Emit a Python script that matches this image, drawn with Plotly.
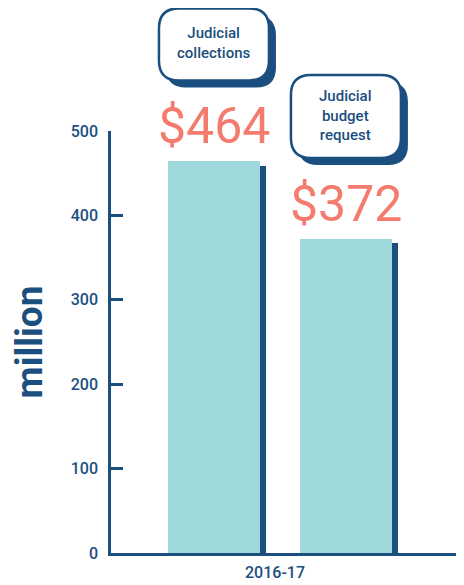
import plotly.graph_objects as go

# data
categories = ["Judicial collections", "Judicial budget request"]
callout_text = ["Judicial<br>collections", "Judicial<br>budget<br>request"]
amounts = [464, 372]
period_label = "2016-17"
y_ticks = [0, 100, 200, 300, 400, 500]

teal = "#9ED8DA"
navy = "#1B4F80"
salmon = "#F47C6E"
FONT = "Roboto, Liberation Sans, sans-serif"

xs = list(range(len(categories)))
bar_w = 0.70
shadow_dx = 0.046   # shadow strip on the right of each bar
shadow_drop = 5     # shadow top sits a little lower than the bar
y_max = 500

fig = go.Figure()
fig.add_trace(go.Bar(x=xs, y=[v - shadow_drop for v in amounts],
                     width=bar_w + shadow_dx, offset=-bar_w / 2,
                     marker=dict(color=navy, line=dict(width=0)),
                     hoverinfo="skip", showlegend=False))
fig.add_trace(go.Bar(x=xs, y=amounts, width=bar_w,
                     marker=dict(color=teal, line=dict(width=0)),
                     hovertext=categories, showlegend=False))


def rrect(x0, x1, y0, y1, r):
    return (f"M{x0+r},{y0} L{x1-r},{y0} Q{x1},{y0} {x1},{y0+r} "
            f"L{x1},{y1-r} Q{x1},{y1} {x1-r},{y1} L{x0+r},{y1} "
            f"Q{x0},{y1} {x0},{y1-r} L{x0},{y0+r} Q{x0},{y0} {x0+r},{y0} Z")


shapes = []
annotations = []
for i, (v, txt) in enumerate(zip(amounts, callout_text)):
    nlines = txt.count("<br>") + 1
    h = 50 + 11 * nlines
    bottom = 81
    w = 110
    sh = 7
    common = dict(xref="x", yref="paper", xsizemode="pixel", ysizemode="pixel",
                  xanchor=i, yanchor=v / y_max, layer="above")
    shapes.append(dict(type="path",
                       path=rrect(-w / 2 + sh, w / 2 + sh, bottom - sh, bottom + h - sh, 20),
                       fillcolor=navy, line=dict(width=0), **common))
    shapes.append(dict(type="path",
                       path=rrect(-w / 2, w / 2, bottom, bottom + h, 20),
                       fillcolor="white", line=dict(color=navy, width=2.5), **common))
    annotations.append(dict(x=i, y=v, xref="x", yref="y", text=txt, showarrow=False,
                            yshift=bottom + h / 2 + 1, align="center",
                            font=dict(family=FONT, size=15, color=navy, weight=500)))
    annotations.append(dict(x=i, y=v, xref="x", yref="y", text=f"${v}", showarrow=False,
                            yanchor="bottom", yshift=4,
                            font=dict(family=FONT, size=50, color=salmon)))

# small upturn at the right end of the x axis
shapes.append(dict(type="line", xref="paper", yref="paper", x0=0.997, x1=0.997,
                   y0=0, y1=0.025, line=dict(color=navy, width=2)))

annotations.append(dict(x=0.46, y=0, xref="x", yref="paper", text=period_label,
                        showarrow=False, yanchor="top", yshift=-8,
                        font=dict(family=FONT, size=16, color=navy, weight=500)))

# page body keeps an 8px margin, so the figure is 8px smaller each way
fig.update_layout(
    width=456, height=577,
    margin=dict(l=103, r=1, t=123, b=32),
    paper_bgcolor="white", plot_bgcolor="white",
    bargap=0, barmode="overlay",
    shapes=shapes, annotations=annotations,
    xaxis=dict(range=[-0.78, 1.887], showticklabels=False, ticks="",
               showgrid=False, zeroline=False, showline=True,
               linecolor=navy, linewidth=2.5, fixedrange=True),
    yaxis=dict(range=[0, y_max], tickvals=y_ticks, ticks="inside", ticklen=12,
               tickwidth=2.5, tickcolor=navy, showgrid=False, zeroline=False,
               showline=True, linecolor=navy, linewidth=2.5, ticklabelstandoff=7,
               tickfont=dict(family=FONT, size=16, color=navy, weight=500),
               title=dict(text="<b>million</b>", standoff=18,
                          font=dict(family=FONT, size=37, color=navy))),
)

fig.write_html("out.html")
